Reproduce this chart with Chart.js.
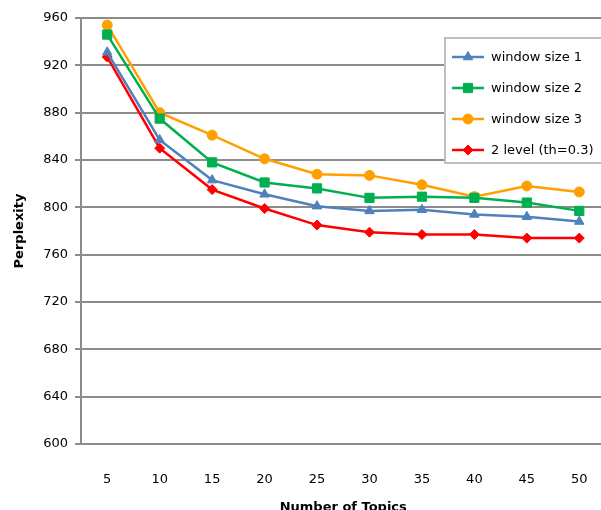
<!DOCTYPE html>
<html>
<head>
<meta charset="utf-8">
<script src="https://cdn.jsdelivr.net/npm/chart.js@4.4.1/dist/chart.umd.min.js"></script>
<style>
  html, body { margin: 0; padding: 0; background: #fff; overflow: hidden; }
  #wrap { width: 613px; height: 510px; }
</style>
</head>
<body>
<div id="wrap"><canvas id="chart"></canvas></div>
<script>
const topics = ['5', '10', '15', '20', '25', '30', '35', '40', '45', '50']
const windowSize1 = [931, 857, 823, 811, 801, 797, 798, 794, 792, 788]
const windowSize2 = [946, 875, 838, 821, 816, 808, 809, 808, 804, 797]
const windowSize3 = [954, 880, 861, 841, 828, 827, 819, 809, 818, 813]
const twoLevel = [927, 850, 815, 799, 785, 779, 777, 777, 774, 774]
const yMin = 600, yMax = 960, yStep = 40

const gridGray = '#8c8c8c'
const font = { family: 'DejaVu Sans', size: 13 }

function series(label, data, color, pointStyle, radius) {
  return {
    label: label,
    data: data,
    borderColor: color,
    backgroundColor: color,
    borderWidth: 2.5,
    pointStyle: pointStyle,
    pointRadius: radius,
    pointHoverRadius: radius,
    pointBorderWidth: 1,
    tension: 0
  }
}

// legend box drawn inside the plot, top right
const boxLegend = {
  id: 'boxLegend',
  afterDraw(chart) {
    const ctx = chart.ctx
    const x = 445, y = 38, w = 157, h = 125
    ctx.save()
    ctx.fillStyle = '#fff'
    ctx.fillRect(x, y, w, h)
    ctx.strokeStyle = '#bfbfbf'
    ctx.lineWidth = 2
    ctx.strokeRect(x, y, w, h)
    chart.data.datasets.forEach((ds, i) => {
      const cy = 57 + i * 31
      ctx.strokeStyle = ds.borderColor
      ctx.fillStyle = ds.borderColor
      ctx.lineWidth = 2.5
      ctx.beginPath()
      ctx.moveTo(452, cy)
      ctx.lineTo(484, cy)
      ctx.stroke()
      ctx.lineWidth = 1
      Chart.helpers.drawPoint(ctx, { pointStyle: ds.pointStyle, radius: ds.pointRadius, borderWidth: 1, rotation: 0 }, 468, cy)
      ctx.fillStyle = '#000'
      ctx.font = '13px "DejaVu Sans"'
      ctx.textBaseline = 'middle'
      ctx.textAlign = 'left'
      ctx.fillText(ds.label, 491, cy + 1)
    })
    ctx.restore()
  }
}

new Chart(document.getElementById('chart'), {
  type: 'line',
  data: {
    labels: topics,
    datasets: [
      series('window size 1', windowSize1, '#4f81bd', 'triangle', 5.5),
      series('window size 2', windowSize2, '#00b050', 'rect', 6.5),
      series('window size 3', windowSize3, '#ffa000', 'circle', 5),
      series('2 level (th=0.3)', twoLevel, '#ff0000', 'rectRot', 5)
    ]
  },
  options: {
    responsive: true,
    maintainAspectRatio: false,
    animation: false,
    events: [],
    layout: { padding: { top: 18, right: 0, bottom: 0, left: 0 } },
    plugins: { legend: { display: false }, tooltip: { enabled: false } },
    scales: {
      x: {
        offset: true,
        grid: { display: false },
        border: { display: true, color: gridGray, width: 2 },
        ticks: { color: '#000', font: font, padding: 20, maxRotation: 0 },
        title: { display: true, text: 'Number of Topics', color: '#000', font: { family: 'DejaVu Sans', size: 13, weight: 'bold' }, padding: { top: 16, bottom: -5 } },
        afterFit(scale) { scale.height = 66 }
      },
      y: {
        min: yMin,
        max: yMax,
        grid: { color: gridGray, lineWidth: 2, tickLength: 6 },
        border: { display: true, color: gridGray, width: 2 },
        ticks: { stepSize: yStep, color: '#000', font: font, padding: 7 },
        title: { display: true, text: 'Perplexity', color: '#000', font: { family: 'DejaVu Sans', size: 13, weight: 'bold' }, padding: { top: 12, bottom: 4 } },
        afterFit(scale) { scale.width = 81 }
      }
    }
  },
  plugins: [boxLegend]
})
</script>
</body>
</html>
